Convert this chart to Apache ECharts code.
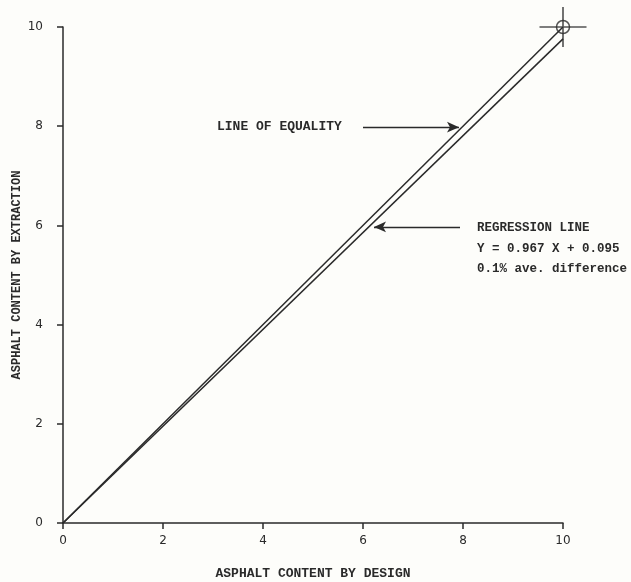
<!DOCTYPE html>
<html><head><meta charset="utf-8">
<script src="https://cdn.jsdelivr.net/npm/echarts@6/dist/echarts.min.js"></script>
<style>html,body{margin:0;padding:0;background:#fdfdfa}#c{width:631px;height:582px}</style>
</head><body><div id="c"></div>
<script>
const xTicks = [0, 2, 4, 6, 8, 10];
const yTicks = [0, 2, 4, 6, 8, 10];
const designX = [0, 10];
const equalityY = [0, 10];
const regressionY = [0, 9.76];
const markerPoint = [10, 10];
const equalityArrow = [[6.0, 7.98], [7.92, 7.98]];
const regressionArrow = [[7.94, 5.97], [6.22, 5.97]];
const labels = {
  x: 'ASPHALT CONTENT BY DESIGN',
  y: 'ASPHALT CONTENT BY EXTRACTION',
  eq: 'LINE OF EQUALITY',
  reg: ['REGRESSION LINE', 'Y = 0.967 X + 0.095', '0.1% ave. difference']
};
const ink = '#2a2a2a';
const mono = '"Liberation Mono", "DejaVu Sans Mono", monospace';
const chart = echarts.init(document.getElementById('c'));
chart.setOption({
  backgroundColor: '#fdfdfa',
  animation: false,
  grid: {left: 63, right: 68, top: 27, bottom: 59, outerBoundsMode: 'none', containLabel: false},
  xAxis: {
    type: 'value', min: 0, max: 10, interval: 2,
    name: labels.x, nameLocation: 'middle', nameGap: 44, nameMoveOverlap: false,
    nameTextStyle: {fontFamily: mono, fontSize: 13, color: ink, fontWeight: 'bold'},
    axisLine: {lineStyle: {color: ink, width: 1.5}},
    axisTick: {show: true, length: 6, lineStyle: {color: ink, width: 1.5}},
    axisLabel: {fontFamily: 'DejaVu Sans', fontSize: 12, color: ink, margin: 12,
      formatter: v => xTicks.includes(v) ? String(v) : ''},
    splitLine: {show: false}
  },
  yAxis: {
    type: 'value', min: 0, max: 10, interval: 2,
    name: labels.y, nameLocation: 'middle', nameGap: 40, nameMoveOverlap: false,
    nameTextStyle: {fontFamily: mono, fontSize: 12, color: ink, fontWeight: 'bold'},
    axisLine: {lineStyle: {color: ink, width: 1.5}},
    axisTick: {show: true, length: 6, lineStyle: {color: ink, width: 1.5}},
    axisLabel: {fontFamily: 'DejaVu Sans', fontSize: 12, color: ink, margin: 20,
      formatter: v => yTicks.includes(v) ? String(v) : ''},
    splitLine: {show: false}
  },
  series: [
    {
      type: 'line', name: 'equality', symbol: 'none',
      data: designX.map((x, i) => [x, equalityY[i]]),
      lineStyle: {color: ink, width: 1.5},
      markLine: {
        silent: true, symbol: ['none', 'arrow'], symbolSize: [8, 12],
        lineStyle: {color: ink, width: 1.3, type: 'solid'}, label: {show: false},
        data: [[{coord: equalityArrow[0]}, {coord: equalityArrow[1]}],
               [{coord: regressionArrow[0]}, {coord: regressionArrow[1]}]]
      }
    },
    {
      type: 'line', name: 'regression', symbol: 'none',
      data: designX.map((x, i) => [x, regressionY[i]]),
      lineStyle: {color: ink, width: 1.5}
    },
    {
      type: 'scatter', name: 'marker', data: [markerPoint],
      symbol: 'circle', symbolSize: 13,
      itemStyle: {color: 'rgba(0,0,0,0)', borderColor: ink, borderWidth: 1.5}
    },
    {
      type: 'scatter', name: 'cross', data: [markerPoint],
      symbol: 'path://M0,20 L40,20 M20,0 L20,40', symbolSize: [47, 40],
      itemStyle: {color: 'none', borderColor: ink, borderWidth: 1.5}
    }
  ],
  graphic: [
    {type: 'text', left: 217, top: 120, style: {text: labels.eq, font: 'bold 13px ' + mono, fill: ink}},
    {type: 'text', left: 477, top: 218, style: {text: labels.reg.join('\n'), font: 'bold 12.5px ' + mono, fill: ink, lineHeight: 20.5}}
  ]
});
</script></body></html>
